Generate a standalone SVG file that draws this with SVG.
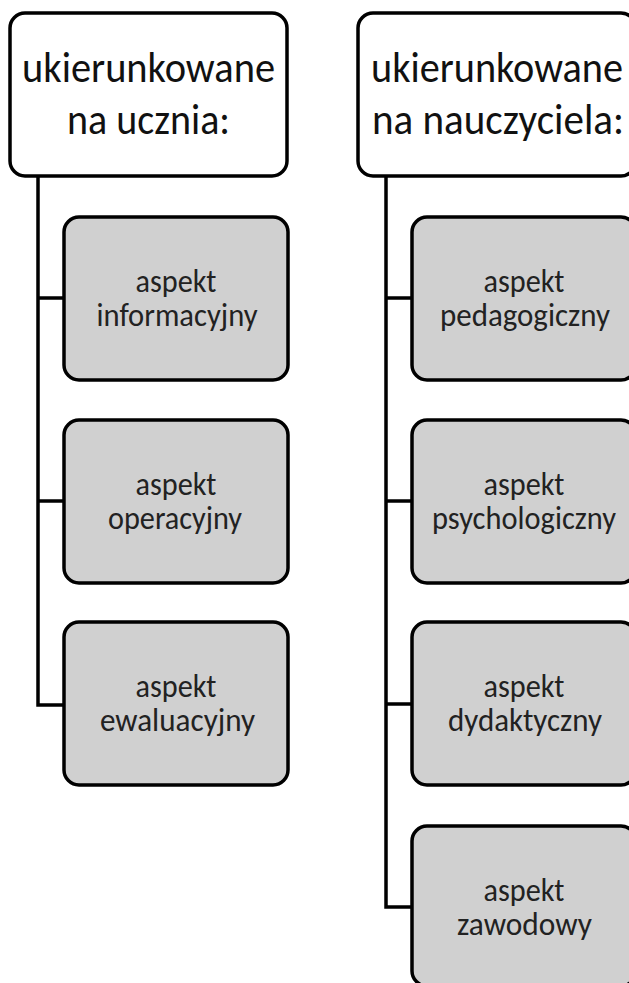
<svg xmlns="http://www.w3.org/2000/svg" width="629" height="983" viewBox="0 0 629 983">
<style>
.title{fill:#ffffff;stroke:#000;stroke-width:3.5}
.item{fill:#d0d0d0;stroke:#000;stroke-width:3.5}
.tt{font-family:Carlito,"Open Sans","Noto Sans",sans-serif;font-size:44px;fill:#111;text-anchor:middle}
.it{font-family:Carlito,"Open Sans","Noto Sans",sans-serif;font-size:32px;fill:#222;text-anchor:middle}
.conn{fill:none;stroke:#000;stroke-width:3.5}
</style>
<rect width="629" height="983" fill="#fff"/>
<g id="connectors">
<path class="conn" d="M38,176 V705 H64 M38,298 H64 M38,501 H64"/>
<path class="conn" d="M386,176 V907 H412 M386,298 H412 M386,501 H412 M386,704 H412"/>
</g>
<g id="n-uczen">
<rect class="title" x="10" y="13" width="277" height="163" rx="15"/>
<text class="tt" x="148.5" y="82" textLength="253" lengthAdjust="spacingAndGlyphs">ukierunkowane</text>
<text class="tt" x="148.5" y="134" textLength="163" lengthAdjust="spacingAndGlyphs">na ucznia:</text>
</g>
<g id="n-nauczyciel">
<rect class="title" x="358" y="13" width="278" height="163" rx="15"/>
<text class="tt" x="497" y="82" textLength="252" lengthAdjust="spacingAndGlyphs">ukierunkowane</text>
<text class="tt" x="498" y="134" textLength="252" lengthAdjust="spacingAndGlyphs">na nauczyciela:</text>
</g>
<g id="n-informacyjny">
<rect class="item" x="64" y="217" width="224" height="163" rx="15"/>
<text class="it" x="176" y="292" textLength="81" lengthAdjust="spacingAndGlyphs">aspekt</text>
<text class="it" x="177" y="326" textLength="161" lengthAdjust="spacingAndGlyphs">informacyjny</text>
</g>
<g id="n-operacyjny">
<rect class="item" x="64" y="420" width="224" height="163" rx="15"/>
<text class="it" x="176" y="495" textLength="81" lengthAdjust="spacingAndGlyphs">aspekt</text>
<text class="it" x="175" y="529" textLength="134" lengthAdjust="spacingAndGlyphs">operacyjny</text>
</g>
<g id="n-ewaluacyjny">
<rect class="item" x="64" y="622" width="224" height="163" rx="15"/>
<text class="it" x="176" y="697" textLength="81" lengthAdjust="spacingAndGlyphs">aspekt</text>
<text class="it" x="177.5" y="731" textLength="155" lengthAdjust="spacingAndGlyphs">ewaluacyjny</text>
</g>
<g id="n-pedagogiczny">
<rect class="item" x="412" y="217" width="224" height="163" rx="15"/>
<text class="it" x="524" y="292" textLength="81" lengthAdjust="spacingAndGlyphs">aspekt</text>
<text class="it" x="525" y="326" textLength="170" lengthAdjust="spacingAndGlyphs">pedagogiczny</text>
</g>
<g id="n-psychologiczny">
<rect class="item" x="412" y="420" width="224" height="163" rx="15"/>
<text class="it" x="524" y="495" textLength="81" lengthAdjust="spacingAndGlyphs">aspekt</text>
<text class="it" x="524" y="529" textLength="184" lengthAdjust="spacingAndGlyphs">psychologiczny</text>
</g>
<g id="n-dydaktyczny">
<rect class="item" x="412" y="622" width="224" height="163" rx="15"/>
<text class="it" x="524" y="697" textLength="81" lengthAdjust="spacingAndGlyphs">aspekt</text>
<text class="it" x="525" y="731" textLength="154" lengthAdjust="spacingAndGlyphs">dydaktyczny</text>
</g>
<g id="n-zawodowy">
<rect class="item" x="412" y="826" width="224" height="160" rx="15"/>
<text class="it" x="524" y="901" textLength="81" lengthAdjust="spacingAndGlyphs">aspekt</text>
<text class="it" x="524.5" y="935" textLength="135" lengthAdjust="spacingAndGlyphs">zawodowy</text>
</g>
</svg>
